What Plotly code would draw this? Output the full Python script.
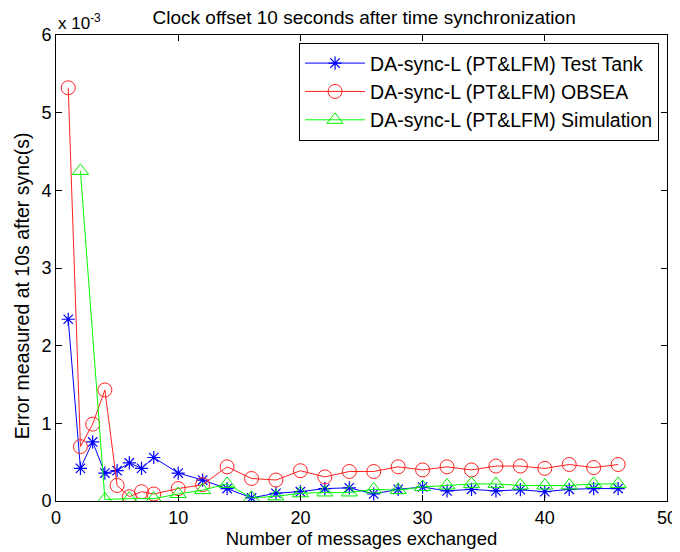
import plotly.graph_objects as go

# values in units of 1e-3 s
x_tank = [1, 2, 3, 4, 5, 6, 7, 8, 10, 12, 14, 16, 18, 20, 22, 24, 26, 28, 30, 32, 34, 36, 38, 40, 42, 44, 46]
y_tank = [2.34, 0.42, 0.76, 0.36, 0.39, 0.49, 0.42, 0.56, 0.36, 0.27, 0.16, 0.04, 0.10, 0.12, 0.16, 0.17, 0.09, 0.15, 0.18, 0.13, 0.15, 0.13, 0.145, 0.12, 0.15, 0.16, 0.16]

x_obsea = [1, 2, 3, 4, 5, 6, 7, 8, 10, 12, 14, 16, 18, 20, 22, 24, 26, 28, 30, 32, 34, 36, 38, 40, 42, 44, 46]
y_obsea = [5.32, 0.70, 0.99, 1.43, 0.20, 0.055, 0.12, 0.09, 0.16, 0.21, 0.44, 0.29, 0.27, 0.39, 0.31, 0.38, 0.38, 0.44, 0.40, 0.44, 0.40, 0.45, 0.45, 0.42, 0.47, 0.43, 0.47]

x_sim = [2, 4, 6, 8, 10, 12, 14, 16, 18, 20, 22, 24, 26, 28, 30, 32, 34, 36, 38, 40, 42, 44, 46]
y_sim = [4.25, 0.02, 0.03, 0.03, 0.09, 0.14, 0.22, 0.04, 0.06, 0.10, 0.11, 0.11, 0.15, 0.14, 0.18, 0.20, 0.22, 0.22, 0.20, 0.20, 0.20, 0.22, 0.22]

names = ["DA-sync-L (PT&LFM) Test Tank", "DA-sync-L (PT&LFM) OBSEA", "DA-sync-L (PT&LFM) Simulation"]
y_ticks = [0, 1, 2, 3, 4, 5, 6]
x_ticks = [0, 10, 20, 30, 40, 50]

font = "Liberation Sans, Arial, sans-serif"

fig = go.Figure()
fig.add_trace(go.Scatter(x=x_tank, y=y_tank, name=names[0], mode="lines+markers",
                         line=dict(color="#0000ff", width=1),
                         marker=dict(symbol="asterisk-open", size=11, line=dict(color="#0000ff", width=1.2))))
fig.add_trace(go.Scatter(x=x_obsea, y=y_obsea, name=names[1], mode="lines+markers",
                         line=dict(color="#ff2020", width=1),
                         marker=dict(symbol="circle-open", size=14, color="#ff2020", line=dict(color="#ff2020", width=1))))
fig.add_trace(go.Scatter(x=x_sim, y=y_sim, name=names[2], mode="lines+markers",
                         line=dict(color="#00ff00", width=1),
                         marker=dict(symbol="triangle-up-open", size=14, color="#00ee00", line=dict(color="#00ee00", width=1))))

axis_common = dict(showgrid=False, zeroline=False, showline=True, linecolor="black", linewidth=1,
                   mirror="ticks", ticks="inside", ticklen=6, tickcolor="black", automargin=False,
                   tickfont=dict(family=font, size=18, color="black"))

# page body has an 8px margin, so the figure is 8px smaller than the window
fig.update_layout(
    width=672, height=544,
    margin=dict(l=48, r=13, t=27, b=51),
    paper_bgcolor="white", plot_bgcolor="white",
    title=dict(text="Clock offset 10 seconds after time synchronization", x=0.530, xanchor="center",
               y=0.983, yanchor="middle", font=dict(family=font, size=19, color="black")),
    xaxis=dict(range=[0, 50], tickvals=x_ticks, title=dict(text="Number of messages exchanged", standoff=2,
               font=dict(family=font, size=18.5, color="black")), **axis_common),
    yaxis=dict(range=[0, 6], tickvals=y_ticks, **axis_common),
    legend=dict(x=0.987, y=0.983, xanchor="right", yanchor="top", bgcolor="white",
                bordercolor="black", borderwidth=1, font=dict(family=font, size=19.5, color="black"),
                tracegroupgap=0, itemwidth=60),
    showlegend=True,
)
fig.add_annotation(text="Error measured at 10s after sync(s)", xref="paper", yref="paper",
                   x=-0.0556, y=0.461, xanchor="center", yanchor="middle", textangle=-90,
                   showarrow=False, font=dict(family=font, size=19.5, color="black"))
fig.add_annotation(text="x 10<sup>-3</sup>", xref="paper", yref="paper", x=0.0, y=1.0,
                   xanchor="left", yanchor="bottom", showarrow=False, yshift=0,
                   font=dict(family=font, size=17, color="black"))

fig.write_html("out.html")
